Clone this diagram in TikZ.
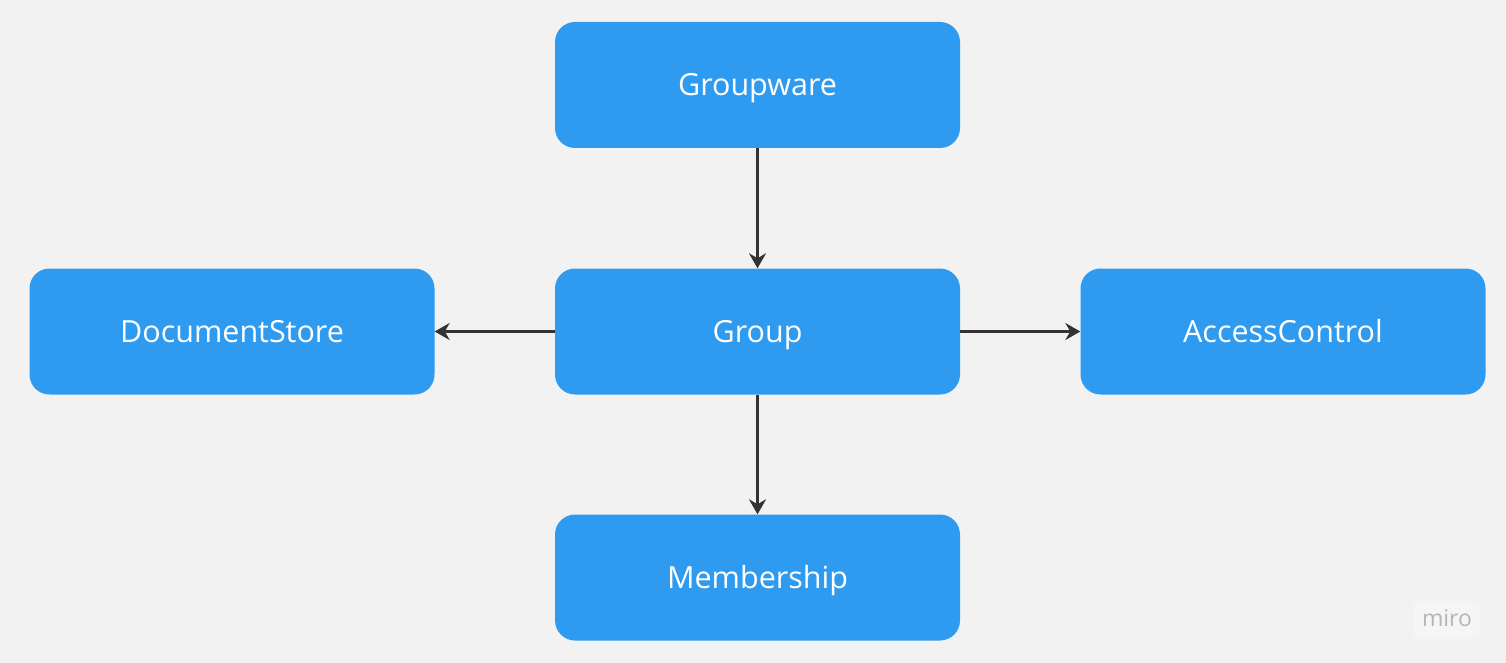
\documentclass[tikz,border=0pt]{standalone}
\usepackage{fontspec}
\setmainfont{Open Sans}
\usetikzlibrary{arrows.meta}
\definecolor{bg}{HTML}{F2F2F2}
\definecolor{boxblue}{HTML}{2F9BF0}
\definecolor{arrowgray}{HTML}{333333}
\definecolor{mirogray}{HTML}{B4B4BC}
\definecolor{mirobg}{HTML}{F5F5F5}
\tikzset{
  block/.style={fill=boxblue, draw=none, rounded corners=20pt, minimum width=405pt, minimum height=126pt, text=white, font=\fontsize{30.5}{34}\selectfont, inner sep=0pt, text height=21.8pt, text depth=0pt},
  link/.style={draw=arrowgray, line width=2.6pt, -{Stealth[length=15pt, width=17pt, inset=5pt]}}
}
\begin{document}
\begin{tikzpicture}[x=1pt, y=-1pt]
\fill[bg] (0,0) rectangle (1506,663);
\useasboundingbox (0,0) rectangle (1506,663);
\node[block] (groupware) at (757.5,85) {Groupware};
\node[block] (group) at (757.5,331.5) {Group};
\node[block] (docstore) at (232,331.5) {DocumentStore};
\node[block] (access) at (1283,331.5) {AccessControl};
\node[block] (member) at (757.5,577.5) {Membership};
\draw[link] (groupware.south) -- (group.north);
\draw[link] (group.west) -- (docstore.east);
\draw[link] (group.east) -- (access.west);
\draw[link] (group.south) -- (member.north);
\node[fill=mirobg, rounded corners=3pt, minimum width=66pt, minimum height=36pt, text=mirogray, font=\fontsize{23}{26}\selectfont, inner sep=0pt, text height=12.2pt, text depth=0pt] (miro) at (1447,620) {miro};
\end{tikzpicture}
\end{document}
